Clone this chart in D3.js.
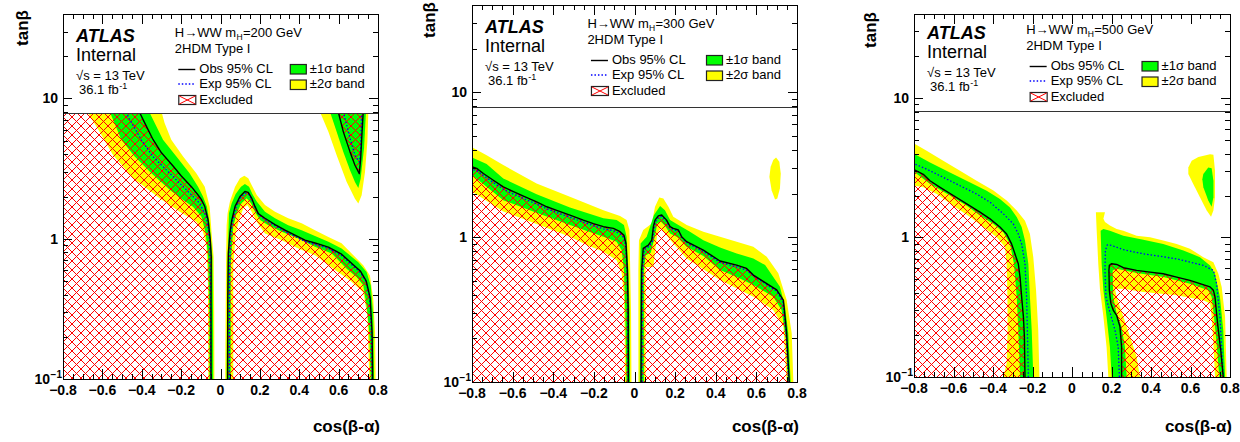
<!DOCTYPE html>
<html>
<head>
<meta charset="utf-8">
<script src="https://cdn.jsdelivr.net/npm/d3@7"></script>
<style>
  body { margin: 0; background: #fff; }
  svg { display: block; }
  text { font-family: "Liberation Sans", Arial, Helvetica, sans-serif; fill: #000; }
</style>
</head>
<body>
<svg id="chart" width="1240" height="442"></svg>
<script>
// ---------- axes ----------
const xDomain = [-0.8, 0.8];
const yDomain = [0.1, 40];
const xTickVals = [-0.8, -0.6, -0.4, -0.2, 0, 0.2, 0.4, 0.6, 0.8];
const xTickText = ["\u22120.8", "\u22120.6", "\u22120.4", "\u22120.2", "0", "0.2", "0.4", "0.6", "0.8"];
const yTickVals = [0.1, 1, 10];
const yTickText = [["10", "\u22121"], ["1", ""], ["10", ""]];
const masses = ["200", "300", "500"];
const legendText = ["Obs 95% CL", "Exp 95% CL", "Excluded", "\u00b11\u03c3 band", "\u00b12\u03c3 band"];

// ---------- mH = 200 GeV  [cos(beta-alpha), tan(beta)] ----------
const obs200L = [[-0.47,12],[-0.44,9.5],[-0.414,8.1],[-0.385,6.7],[-0.343,5.1],[-0.300,4.1],[-0.241,3.3],[-0.199,2.8],[-0.148,2.35],[-0.114,2.05],[-0.097,1.9],[-0.080,1.7],[-0.063,1.36],[-0.052,0.98],[-0.047,0.74],[-0.048,0.35],[-0.048,0.1]];
const exp200L = [[-0.50,10],[-0.470,7.45],[-0.402,5.07],[-0.343,3.85],[-0.258,2.93],[-0.173,2.23],[-0.106,1.79],[-0.072,1.44],[-0.055,0.98],[-0.051,0.5],[-0.050,0.1]];
const g200Llo = [[-0.60,11],[-0.563,8.07],[-0.504,5.07],[-0.436,3.85],[-0.351,2.93],[-0.258,2.23],[-0.190,1.89],[-0.140,1.69],[-0.097,1.44],[-0.075,1.09],[-0.063,0.74],[-0.057,0.3],[-0.056,0.1]];
const g200Lhi = [[-0.40,11],[-0.363,8.07],[-0.292,5.07],[-0.224,3.85],[-0.157,2.93],[-0.114,2.35],[-0.089,2.0],[-0.069,1.69],[-0.055,1.29],[-0.041,0.74],[-0.038,0.3],[-0.037,0.1]];
const y200Llo = [[-0.72,11],[-0.678,8.07],[-0.614,5.8],[-0.546,3.96],[-0.444,2.7],[-0.309,1.94],[-0.207,1.56],[-0.123,1.32],[-0.089,1.12],[-0.072,0.9],[-0.064,0.5],[-0.062,0.1]];
const y200Lhi = [[-0.33,11],[-0.300,8.07],[-0.284,6.67],[-0.250,5.07],[-0.190,3.85],[-0.123,2.93],[-0.080,2.35],[-0.055,1.69],[-0.045,1.09],[-0.035,0.74],[-0.032,0.3],[-0.031,0.1]];

const obs200R = [[0.036,0.1],[0.037,0.37],[0.040,0.79],[0.048,1.10],[0.057,1.35],[0.074,1.70],[0.099,2.0],[0.124,2.17],[0.141,2.14],[0.158,1.95],[0.175,1.70],[0.192,1.51],[0.226,1.40],[0.277,1.26],[0.328,1.15],[0.378,1.06],[0.429,0.977],[0.48,0.933],[0.548,0.871],[0.615,0.776],[0.67,0.661],[0.71,0.589],[0.74,0.501],[0.76,0.38],[0.77,0.214],[0.773,0.1]];
const exp200R = [[0.045,0.1],[0.046,0.5],[0.05,1.0],[0.06,1.32],[0.078,1.66],[0.10,1.95],[0.125,2.11],[0.142,2.08],[0.16,1.88],[0.178,1.64],[0.195,1.48],[0.23,1.36],[0.28,1.23],[0.33,1.12],[0.38,1.035],[0.43,0.955],[0.48,0.912],[0.55,0.851],[0.615,0.759],[0.67,0.646],[0.71,0.575],[0.74,0.49],[0.758,0.372],[0.767,0.214],[0.77,0.1]];
const g200Rhi = [[0.031,0.1],[0.035,0.65],[0.040,1.09],[0.043,1.52],[0.057,1.79],[0.077,2.08],[0.104,2.35],[0.124,2.46],[0.145,2.35],[0.162,2.08],[0.184,1.84],[0.226,1.56],[0.277,1.40],[0.344,1.25],[0.412,1.15],[0.48,1.045],[0.548,0.953],[0.615,0.853],[0.666,0.745],[0.70,0.68],[0.742,0.578],[0.763,0.465],[0.776,0.283],[0.78,0.1]];
const g200Rlo = [[0.052,0.1],[0.052,0.65],[0.065,1.22],[0.082,1.52],[0.107,1.79],[0.133,1.94],[0.155,1.79],[0.175,1.56],[0.201,1.36],[0.243,1.25],[0.311,1.12],[0.395,1.005],[0.48,0.877],[0.565,0.785],[0.641,0.611],[0.692,0.532],[0.725,0.465],[0.742,0.334],[0.756,0.215],[0.763,0.1]];
const y200Rhi = [[0.024,0.1],[0.028,0.65],[0.031,1.24],[0.036,1.52],[0.048,1.84],[0.074,2.35],[0.099,2.70],[0.121,2.81],[0.141,2.70],[0.158,2.42],[0.184,2.05],[0.226,1.74],[0.277,1.56],[0.344,1.40],[0.412,1.29],[0.48,1.15],[0.548,1.03],[0.615,0.927],[0.666,0.785],[0.725,0.646],[0.759,0.547],[0.776,0.372],[0.785,0.215],[0.788,0.1]];
const y200Rlo = [[0.065,0.1],[0.065,0.65],[0.077,1.09],[0.094,1.36],[0.116,1.65],[0.136,1.74],[0.158,1.56],[0.184,1.32],[0.226,1.09],[0.311,0.977],[0.395,0.853],[0.48,0.764],[0.505,0.72],[0.573,0.611],[0.658,0.504],[0.725,0.416],[0.746,0.283],[0.756,0.1]];

const obs200W = [[0.57,12],[0.598,8.04],[0.624,5.78],[0.658,4.16],[0.683,3.34],[0.705,2.91],[0.712,3.72],[0.719,5.78],[0.725,8.04],[0.73,12]];
const exp200W = [[0.60,12],[0.624,8.04],[0.658,5.18],[0.683,3.94],[0.705,3.53],[0.712,4.40],[0.717,8.04],[0.72,12]];
const g200W = [[0.53,12],[0.556,8.04],[0.59,5.78],[0.624,4.16],[0.658,3.08],[0.683,2.54],[0.70,2.30],[0.712,2.69],[0.729,4.40],[0.739,8.04],[0.745,12]];
const y200W = [[0.47,12],[0.505,8.04],[0.548,5.78],[0.59,3.94],[0.641,2.54],[0.683,1.93],[0.70,1.78],[0.717,2.04],[0.734,2.99],[0.746,4.90],[0.751,8.04],[0.755,12]];

// ---------- mH = 300 GeV ----------
const obs300L = [[-0.81,3.09],[-0.777,2.98],[-0.744,2.75],[-0.695,2.47],[-0.646,2.22],[-0.596,2.06],[-0.547,1.92],[-0.482,1.75],[-0.432,1.62],[-0.383,1.53],[-0.318,1.42],[-0.252,1.31],[-0.203,1.24],[-0.153,1.18],[-0.104,1.15],[-0.071,1.09],[-0.052,1.03],[-0.042,0.904],[-0.035,0.592],[-0.031,0.316],[-0.030,0.1]];
const exp300L = [[-0.81,2.95],[-0.777,2.88],[-0.744,2.66],[-0.695,2.38],[-0.646,2.14],[-0.596,1.98],[-0.547,1.85],[-0.482,1.69],[-0.432,1.57],[-0.383,1.48],[-0.318,1.37],[-0.252,1.27],[-0.203,1.20],[-0.153,1.14],[-0.104,1.11],[-0.071,1.05],[-0.052,0.99],[-0.044,0.87],[-0.037,0.59],[-0.033,0.316],[-0.032,0.1]];
const g300Lhi = [[-0.81,3.6],[-0.728,3.2],[-0.646,2.54],[-0.482,1.98],[-0.318,1.60],[-0.153,1.35],[-0.088,1.31],[-0.052,1.21],[-0.039,1.005],[-0.030,0.592],[-0.024,0.3],[-0.022,0.1]];
const g300Llo = [[-0.81,2.75],[-0.646,1.80],[-0.482,1.47],[-0.318,1.21],[-0.153,1.005],[-0.088,0.929],[-0.063,0.813],[-0.052,0.592],[-0.045,0.3],[-0.040,0.1]];
const y300Lhi = [[-0.81,4.25],[-0.728,3.68],[-0.646,3.14],[-0.482,2.34],[-0.318,1.90],[-0.153,1.53],[-0.071,1.40],[-0.039,1.31],[-0.025,1.12],[-0.021,0.592],[-0.017,0.3],[-0.015,0.1]];
const y300Llo = [[-0.81,2.11],[-0.646,1.50],[-0.482,1.23],[-0.318,1.005],[-0.235,0.881],[-0.153,0.792],[-0.088,0.693],[-0.063,0.562],[-0.052,0.389],[-0.048,0.2],[-0.047,0.1]];

const obs300R = [[0.032,0.1],[0.034,0.4],[0.035,0.593],[0.043,0.836],[0.068,0.881],[0.085,0.953],[0.093,1.18],[0.101,1.31],[0.117,1.40],[0.134,1.42],[0.158,1.31],[0.175,1.18],[0.191,1.15],[0.216,1.12],[0.232,1.005],[0.257,0.929],[0.339,0.813],[0.421,0.684],[0.503,0.641],[0.552,0.608],[0.585,0.547],[0.70,0.432],[0.733,0.368],[0.749,0.217],[0.762,0.1]];
const exp300R = [[0.037,0.1],[0.038,0.4],[0.040,0.6],[0.048,0.82],[0.07,0.86],[0.088,0.93],[0.096,1.15],[0.104,1.28],[0.118,1.37],[0.134,1.39],[0.157,1.29],[0.175,1.16],[0.195,1.12],[0.22,1.09],[0.236,0.98],[0.26,0.91],[0.34,0.795],[0.42,0.67],[0.50,0.625],[0.55,0.593],[0.59,0.535],[0.70,0.423],[0.73,0.36],[0.746,0.217],[0.758,0.1]];
const g300Rhi = [[0.026,0.1],[0.028,0.59],[0.030,0.904],[0.06,1.005],[0.096,1.42],[0.126,1.64],[0.15,1.53],[0.175,1.31],[0.216,1.21],[0.273,1.09],[0.339,0.953],[0.421,0.849],[0.503,0.771],[0.585,0.713],[0.643,0.641],[0.716,0.455],[0.741,0.331],[0.757,0.217],[0.769,0.1]];
const g300Rlo = [[0.046,0.1],[0.047,0.6],[0.055,0.75],[0.08,0.78],[0.10,1.0],[0.112,1.24],[0.129,1.28],[0.15,1.2],[0.175,1.06],[0.21,1.0],[0.257,0.857],[0.339,0.74],[0.421,0.593],[0.503,0.53],[0.585,0.467],[0.683,0.388],[0.724,0.314],[0.746,0.195],[0.756,0.1]];
const y300Rhi = [[0.019,0.1],[0.019,0.593],[0.022,0.953],[0.043,1.12],[0.085,1.24],[0.101,1.62],[0.122,1.88],[0.142,1.85],[0.167,1.62],[0.191,1.38],[0.257,1.21],[0.339,1.09],[0.421,1.005],[0.503,0.929],[0.585,0.857],[0.651,0.731],[0.708,0.562],[0.749,0.368],[0.774,0.217],[0.782,0.1]];
const y300Rlo = [[0.055,0.1],[0.055,0.62],[0.093,0.625],[0.112,1.06],[0.129,1.15],[0.191,0.904],[0.257,0.713],[0.421,0.506],[0.585,0.388],[0.683,0.314],[0.733,0.241],[0.749,0.1]];
const y300Island = [[0.697,3.54],[0.713,3.31],[0.720,2.75],[0.716,2.17],[0.703,1.85],[0.692,1.82],[0.675,2.11],[0.664,2.61],[0.670,3.05],[0.683,3.40]];

// ---------- mH = 500 GeV ----------
const obs500L = [[-0.81,3.06],[-0.795,3.04],[-0.753,2.84],[-0.719,2.55],[-0.668,2.29],[-0.601,2.0],[-0.533,1.74],[-0.466,1.52],[-0.415,1.36],[-0.365,1.19],[-0.331,1.06],[-0.306,0.90],[-0.289,0.764],[-0.272,0.649],[-0.263,0.52],[-0.255,0.375],[-0.246,0.27],[-0.241,0.194],[-0.238,0.1]];
const exp500L = [[-0.81,3.4],[-0.795,3.36],[-0.736,3.09],[-0.652,2.70],[-0.567,2.35],[-0.483,2.05],[-0.415,1.79],[-0.348,1.48],[-0.297,1.25],[-0.272,1.06],[-0.255,0.90],[-0.238,0.649],[-0.230,0.375],[-0.226,0.217],[-0.221,0.1]];
const g500Lhi = [[-0.81,3.96],[-0.795,3.95],[-0.719,3.45],[-0.618,2.92],[-0.516,2.48],[-0.432,2.16],[-0.365,1.89],[-0.314,1.64],[-0.280,1.40],[-0.255,1.19],[-0.238,0.95],[-0.221,0.649],[-0.213,0.375],[-0.204,0.217],[-0.196,0.1]];
const g500Llo = [[-0.81,2.92],[-0.795,2.92],[-0.719,2.42],[-0.618,2.0],[-0.533,1.69],[-0.466,1.44],[-0.398,1.25],[-0.348,1.09],[-0.314,0.90],[-0.294,0.649],[-0.280,0.375],[-0.272,0.217],[-0.263,0.1]];
const y500Lhi = [[-0.81,4.7],[-0.795,4.67],[-0.736,4.18],[-0.652,3.55],[-0.567,3.01],[-0.483,2.55],[-0.398,2.17],[-0.331,1.84],[-0.280,1.56],[-0.238,1.32],[-0.213,1.06],[-0.196,0.723],[-0.182,0.418],[-0.171,0.217],[-0.165,0.1]];
const y500Llo = [[-0.81,2.35],[-0.795,2.35],[-0.753,2.29],[-0.685,2.05],[-0.601,1.69],[-0.516,1.40],[-0.449,1.19],[-0.381,1.005],[-0.339,0.853],[-0.331,0.649],[-0.327,0.375],[-0.326,0.217],[-0.331,0.125],[-0.348,0.1]];

const obs500R = [[0.251,0.1],[0.251,0.164],[0.243,0.229],[0.226,0.277],[0.209,0.301],[0.197,0.336],[0.189,0.418],[0.187,0.581],[0.189,0.631],[0.201,0.649],[0.226,0.641],[0.260,0.607],[0.327,0.581],[0.395,0.565],[0.462,0.55],[0.530,0.52],[0.597,0.493],[0.648,0.467],[0.699,0.442],[0.716,0.418],[0.724,0.375],[0.732,0.285],[0.741,0.217],[0.753,0.156],[0.766,0.1]];
const exp500R = [[0.240,0.1],[0.234,0.164],[0.218,0.216],[0.192,0.292],[0.172,0.375],[0.167,0.581],[0.169,0.807],[0.179,0.885],[0.201,0.877],[0.260,0.817],[0.361,0.764],[0.530,0.703],[0.665,0.631],[0.716,0.581],[0.732,0.467],[0.749,0.27],[0.766,0.1]];
const g500Rhi = [[0.201,0.1],[0.192,0.164],[0.175,0.27],[0.159,0.418],[0.150,0.649],[0.145,1.12],[0.159,1.15],[0.192,1.12],[0.260,1.03],[0.361,0.962],[0.462,0.90],[0.564,0.807],[0.648,0.723],[0.699,0.631],[0.724,0.55],[0.749,0.375],[0.766,0.216],[0.775,0.1]];
const g500Rlo = [[0.277,0.1],[0.268,0.164],[0.251,0.229],[0.226,0.285],[0.209,0.375],[0.206,0.581],[0.226,0.597],[0.327,0.556],[0.462,0.52],[0.597,0.467],[0.690,0.418],[0.707,0.375],[0.719,0.27],[0.732,0.174],[0.746,0.1]];
const y500Rhi = [[0.184,0.1],[0.175,0.164],[0.159,0.27],[0.142,0.418],[0.133,0.649],[0.125,1.12],[0.121,1.52],[0.167,1.52],[0.159,1.36],[0.167,1.29],[0.192,1.22],[0.226,1.15],[0.260,1.12],[0.327,1.03],[0.395,1.005],[0.462,0.95],[0.530,0.90],[0.597,0.83],[0.665,0.723],[0.716,0.665],[0.741,0.55],[0.758,0.442],[0.775,0.27],[0.783,0.1]];
const y500Rlo = [[0.344,0.1],[0.327,0.14],[0.294,0.194],[0.260,0.27],[0.226,0.375],[0.218,0.43],[0.260,0.43],[0.361,0.406],[0.530,0.385],[0.665,0.355],[0.699,0.336],[0.707,0.27],[0.716,0.174],[0.724,0.1]];
const y500Island = [[0.589,3.18],[0.606,3.55],[0.640,3.78],[0.699,3.95],[0.716,3.92],[0.724,3.01],[0.724,1.94],[0.716,1.56],[0.704,1.41],[0.682,1.56],[0.648,1.94],[0.614,2.42],[0.589,2.85]];
const g500Island = [[0.665,2.85],[0.690,3.18],[0.707,3.14],[0.716,2.55],[0.716,1.94],[0.707,1.66],[0.690,1.84],[0.665,2.29],[0.660,2.62]];

// ---------- helpers ----------
const band = (a, b) => a.concat(b.slice().reverse());
// region between a contour and the left edge of the plot
const leftRegion = o => [[-0.81, o[0][1]], ...o, [-0.81, 0.1]];

const panels = [
  { mass: masses[0], L: 63, T: 14, R: 378, B: 379, legendB: 113, A: 42, tanX: 28, tanEnd: 10,
    yellow: [band(y200Llo, y200Lhi), band(y200Rhi, y200Rlo), y200W],
    green: [band(g200Llo, g200Lhi), band(g200Rhi, g200Rlo), g200W],
    excl: [leftRegion(obs200L), obs200R, obs200W],
    obs: [obs200L, obs200R, obs200W], exp: [exp200L, exp200R, exp200W] },
  { mass: masses[1], L: 472, T: 5, R: 797, B: 382, legendB: 107, A: 33, tanX: 435, tanEnd: 2,
    yellow: [band(y300Llo, y300Lhi), band(y300Rhi, y300Rlo), y300Island],
    green: [band(g300Llo, g300Lhi), band(g300Rhi, g300Rlo)],
    excl: [leftRegion(obs300L), obs300R],
    obs: [obs300L, obs300R], exp: [exp300L, exp300R] },
  { mass: masses[2], L: 914, T: 14, R: 1230, B: 377, legendB: 111, A: 39, tanX: 876, tanEnd: 12,
    yellow: [band(y500Llo, y500Lhi), band(y500Rhi, y500Rlo), y500Island],
    green: [band(g500Llo, g500Lhi), band(g500Rhi, g500Rlo), g500Island],
    excl: [leftRegion(obs500L), obs500R],
    obs: [obs500L, obs500R], exp: [exp500L, exp500R] }
];

const YELLOW = "#ffff00", GREEN = "#00ff00", HATCH = "#ff0000";
const svg = d3.select("#chart");
const defs = svg.append("defs");

// red cross-hatch for the excluded area
const hp = 9;
defs.append("pattern").attr("id", "hatch").attr("patternUnits", "userSpaceOnUse")
  .attr("width", hp).attr("height", hp)
  .append("path")
  .attr("d", `M0,0L${hp},${hp}M${hp},0L0,${hp}`)
  .attr("stroke", HATCH).attr("stroke-width", 1).attr("fill", "none");

// a run of text pieces placed one after another, each as its own element
function textRun(g, x0, y0, pieces) {
  let cx = x0;
  pieces.forEach(pc => {
    const t = g.append("text").attr("x", cx).attr("y", y0 + (pc.dy || 0))
      .attr("font-size", pc.size).text(pc.text);
    cx += t.node().getComputedTextLength() + (pc.gap || 0);
  });
}

panels.forEach((p, i) => {
  const x = d3.scaleLinear().domain(xDomain).range([p.L, p.R]);
  const y = d3.scaleLog().domain(yDomain).range([p.B, p.T]);
  const W = p.R - p.L;
  const g = svg.append("g");

  defs.append("clipPath").attr("id", "clip" + i)
    .append("rect").attr("x", p.L).attr("y", p.T).attr("width", W).attr("height", p.B - p.T);
  const plot = g.append("g").attr("clip-path", `url(#clip${i})`);
  const ln = d3.line().x(d => x(d[0])).y(d => y(d[1]));

  p.yellow.forEach(s => plot.append("path").attr("d", ln(s) + "Z").attr("fill", YELLOW));
  p.green.forEach(s => plot.append("path").attr("d", ln(s) + "Z").attr("fill", GREEN));
  p.excl.forEach(s => plot.append("path").attr("d", ln(s) + "Z").attr("fill", "url(#hatch)"));
  p.exp.forEach(s => plot.append("path").attr("d", ln(s)).attr("fill", "none")
    .attr("stroke", "#0000ff").attr("stroke-width", 1.3).attr("stroke-dasharray", "1.5,2"));
  p.obs.forEach(s => plot.append("path").attr("d", ln(s)).attr("fill", "none")
    .attr("stroke", "#000").attr("stroke-width", 1.4).attr("stroke-linejoin", "round"));

  // legend pad across the top of the frame
  g.append("rect").attr("x", p.L).attr("y", p.T).attr("width", W).attr("height", p.legendB - p.T).attr("fill", "#fff");
  g.append("line").attr("x1", p.L).attr("x2", p.R).attr("y1", p.legendB + 0.5).attr("y2", p.legendB + 0.5)
    .attr("stroke", "#333").attr("stroke-width", 1);

  // ATLAS label block
  const ax = p.L + 13, A = p.A;
  g.append("text").attr("x", ax).attr("y", A).attr("font-size", 18).attr("font-weight", "bold")
    .attr("font-style", "italic").text("ATLAS");
  g.append("text").attr("x", ax).attr("y", A + 19).attr("font-size", 18).text("Internal");
  g.append("text").attr("x", ax).attr("y", A + 38).attr("font-size", 13).text("\u221as = 13 TeV");
  textRun(g, ax + 3, A + 52, [
    { text: "36.1 fb", size: 13, gap: 0.5 },
    { text: "-1", size: 9, dy: -5 }
  ]);

  // process title
  const tx = p.L + 0.355 * W;
  textRun(g, tx, A - 5, [
    { text: "H\u2192WW m", size: 13, gap: 0.3 },
    { text: "H", size: 8.5, dy: 2.5, gap: 0.3 },
    { text: `=${p.mass} GeV`, size: 13 }
  ]);
  g.append("text").attr("x", tx).attr("y", A + 10.5).attr("font-size", 13).text("2HDM Type I");

  // legend entries
  const sx = p.L + 0.366 * W;
  g.append("line").attr("x1", sx).attr("x2", sx + 17).attr("y1", A + 27.5).attr("y2", A + 27.5)
    .attr("stroke", "#000").attr("stroke-width", 1.4);
  g.append("text").attr("x", sx + 21).attr("y", A + 31).attr("font-size", 13).text(legendText[0]);
  g.append("line").attr("x1", sx).attr("x2", sx + 17).attr("y1", A + 42).attr("y2", A + 42)
    .attr("stroke", "#0000ff").attr("stroke-width", 1.3).attr("stroke-dasharray", "1.5,2");
  g.append("text").attr("x", sx + 21).attr("y", A + 45.5).attr("font-size", 13).text(legendText[1]);
  g.append("rect").attr("x", sx + 0.5).attr("y", A + 53.5).attr("width", 17).attr("height", 9)
    .attr("fill", "#fff").attr("stroke", "#222").attr("stroke-width", 1.2);
  g.append("path").attr("d", `M${sx + 1},${A + 54}L${sx + 17},${A + 62}M${sx + 17},${A + 54}L${sx + 1},${A + 62}`)
    .attr("stroke", HATCH).attr("stroke-width", 1);
  g.append("text").attr("x", sx + 21).attr("y", A + 61.5).attr("font-size", 13).text(legendText[2]);

  const bx = p.L + 0.72 * W;
  g.append("rect").attr("x", bx + 0.5).attr("y", A + 22.5).attr("width", 16).attr("height", 9.5)
    .attr("fill", GREEN).attr("stroke", "#222").attr("stroke-width", 1.2);
  g.append("text").attr("x", bx + 20).attr("y", A + 31).attr("font-size", 13).text(legendText[3]);
  g.append("rect").attr("x", bx + 0.5).attr("y", A + 38).attr("width", 16).attr("height", 9.5)
    .attr("fill", YELLOW).attr("stroke", "#222").attr("stroke-width", 1.2);
  g.append("text").attr("x", bx + 20).attr("y", A + 46).attr("font-size", 13).text(legendText[4]);

  // frame
  g.append("rect").attr("x", p.L + 0.5).attr("y", p.T + 0.5).attr("width", W).attr("height", p.B - p.T)
    .attr("fill", "none").attr("stroke", "#000").attr("stroke-width", 1);

  // x ticks (bottom and top), minor every 0.05
  const xt = d3.range(-16, 17).map(k => ({ v: k * 0.05, major: k % 4 === 0 }));
  xt.forEach(d => {
    const px = Math.round(x(d.v)) + 0.5, len = d.major ? 10 : 5;
    g.append("line").attr("x1", px).attr("x2", px).attr("y1", p.B).attr("y2", p.B - len).attr("stroke", "#000");
    g.append("line").attr("x1", px).attr("x2", px).attr("y1", p.T).attr("y2", p.T + len).attr("stroke", "#000");
  });
  xTickVals.forEach((v, k) => {
    g.append("text").attr("x", x(v)).attr("y", p.B + 16).attr("text-anchor", "middle")
      .attr("font-size", 14).attr("font-weight", "bold").text(xTickText[k]);
  });

  // y ticks (left and right), log scale
  const yt = [];
  [0.1, 1, 10].forEach(dec => d3.range(1, 10).forEach(m => {
    const v = m * dec;
    if (v <= yDomain[1]) yt.push({ v, major: m === 1 });
  }));
  yt.forEach(d => {
    const py = Math.round(y(d.v)) + 0.5, len = d.major ? 9 : 5;
    g.append("line").attr("x1", p.L).attr("x2", p.L + len).attr("y1", py).attr("y2", py).attr("stroke", "#000");
    g.append("line").attr("x1", p.R).attr("x2", p.R - len).attr("y1", py).attr("y2", py).attr("stroke", "#000");
  });
  yTickVals.forEach((v, k) => {
    const [base, sup] = yTickText[k];
    if (sup) {
      const ts = g.append("text").attr("x", p.L - 1).attr("y", y(v) - 1).attr("font-size", 10)
        .attr("font-weight", "bold").attr("text-anchor", "end").text(sup);
      const sw = ts.node().getComputedTextLength();
      g.append("text").attr("x", p.L - 1.5 - sw).attr("y", y(v) + 5).attr("font-size", 14)
        .attr("font-weight", "bold").attr("text-anchor", "end").text(base);
    } else {
      g.append("text").attr("x", p.L - 5).attr("y", y(v) + 5).attr("font-size", 14)
        .attr("font-weight", "bold").attr("text-anchor", "end").text(base);
    }
  });

  // axis titles
  g.append("text").attr("transform", `translate(${p.tanX},${p.tanEnd}) rotate(-90)`)
    .attr("text-anchor", "end").attr("font-size", 17).attr("font-weight", "bold").text("tan\u03b2");
  g.append("text").attr("x", p.R + 2).attr("y", 432).attr("text-anchor", "end")
    .attr("font-size", 17).attr("font-weight", "bold").text("cos(\u03b2-\u03b1)");
});
</script>
</body>
</html>
